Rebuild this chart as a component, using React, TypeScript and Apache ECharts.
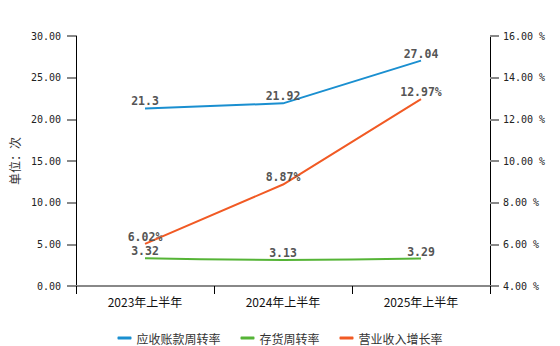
import React, { useEffect, useRef } from "react";
import * as echarts from "echarts";

const categories = ["2023年上半年", "2024年上半年", "2025年上半年"];
const receivableTurnover = [21.3, 21.92, 27.04];
const inventoryTurnover = [3.32, 3.13, 3.29];
const revenueGrowth = [6.02, 8.87, 12.97];
const seriesNames = ["应收账款周转率", "存货周转率", "营业收入增长率"];
const colors = ["#1a8fd0", "#55b436", "#f15a24"];

const monoFont = "'DejaVu Sans Mono', 'Liberation Mono', monospace";
const cjkFont = "'Noto Sans CJK SC', 'Noto Sans', sans-serif";

export default function App() {
  const ref = useRef<HTMLDivElement>(null);
  useEffect(() => {
    if (!ref.current) return;
    const chart = echarts.init(ref.current, undefined, { renderer: "svg" });
    const label = (suffix: string) => ({
      show: true,
      position: "top" as const,
      distance: 1,
      color: "#555",
      fontFamily: monoFont,
      fontWeight: "bold" as const,
      fontSize: 11.5,
      formatter: (p: any) => `${p.value}${suffix}`,
    });
    const common = {
      type: "line",
      showSymbol: true,
      symbol: "circle",
      symbolSize: 0.1,
      lineStyle: { width: 2 },
    };
    chart.setOption({
      animation: false,
      color: colors,
      grid: { left: 69, right: 70, top: 36, bottom: 60, containLabel: false },
      legend: {
        top: 327,
        left: "center",
        icon: "roundRect",
        itemWidth: 14,
        itemHeight: 3,
        itemGap: 20,
        textStyle: { fontSize: 12, color: "#333", fontFamily: cjkFont },
        data: seriesNames,
      },
      xAxis: {
        type: "category",
        data: categories,
        boundaryGap: true,
        axisLine: { lineStyle: { color: "#888", width: 2 } },
        axisTick: { show: true, length: 8, lineStyle: { color: "#000", width: 1 } },
        axisLabel: { color: "#111", fontSize: 12, margin: 9, fontFamily: cjkFont },
      },
      yAxis: [
        {
          type: "value",
          min: 0,
          max: 30,
          interval: 5,
          name: "单位：次",
          nameLocation: "middle",
          nameGap: 43,
          nameRotate: 90,
          nameTextStyle: { fontSize: 12, color: "#333", fontFamily: cjkFont },
          axisLine: { show: true, lineStyle: { color: "#000", width: 1 } },
          axisTick: { show: true, length: 9, lineStyle: { color: "#888", width: 2 } },
          axisLabel: {
            color: "#222",
            fontSize: 10,
            margin: 15,
            fontFamily: monoFont,
            formatter: (v: number) => v.toFixed(2),
          },
          splitLine: { show: false },
        },
        {
          type: "value",
          min: 4,
          max: 16,
          interval: 2,
          position: "right",
          axisLine: { show: true, lineStyle: { color: "#000", width: 1 } },
          axisTick: { show: true, length: 9, lineStyle: { color: "#888", width: 2 } },
          axisLabel: {
            color: "#222",
            fontSize: 10,
            margin: 13,
            fontFamily: monoFont,
            formatter: (v: number) => v.toFixed(2) + " %",
          },
          splitLine: { show: false },
        },
      ],
      series: [
        {
          ...common,
          name: seriesNames[0],
          yAxisIndex: 0,
          data: receivableTurnover,
          label: label(""),
        },
        {
          ...common,
          name: seriesNames[1],
          yAxisIndex: 0,
          data: inventoryTurnover,
          smooth: true,
          label: label(""),
        },
        {
          ...common,
          name: seriesNames[2],
          yAxisIndex: 1,
          data: revenueGrowth,
          label: label("%"),
        },
      ],
    });
    return () => chart.dispose();
  }, []);
  return <div ref={ref} style={{ width: 560, height: 346, position: "absolute", left: 0, top: 0 }} />;
}
